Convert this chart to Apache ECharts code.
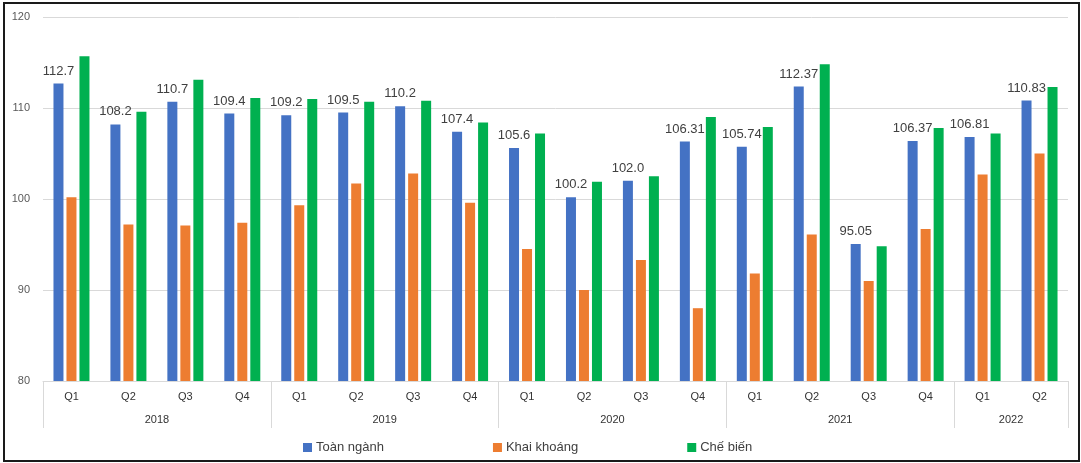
<!DOCTYPE html>
<html>
<head>
<meta charset="utf-8">
<script src="https://cdn.jsdelivr.net/npm/echarts@6/dist/echarts.min.js"></script>
<style>
  html, body { margin: 0; padding: 0; background: #fff; }
  #chart { position: absolute; left: 0; top: 0; width: 1081px; height: 463px; }
  #frame { position: absolute; left: 3px; top: 2px; width: 1073px; height: 456px;
           border: 2px solid #1a1a1a; pointer-events: none; }
</style>
</head>
<body>
<div id="chart"></div>
<div id="frame"></div>
<script>
// Quarterly production index, 2018 - 2022 Q2
const years = ['2018', '2019', '2020', '2021', '2022'];
const quartersPerYear = [4, 4, 4, 4, 2];
const quarterNames = ['Q1', 'Q2', 'Q3', 'Q4'];
const seriesNames = ['Toàn ngành', 'Khai khoáng', 'Chế biến'];
const seriesColors = ['#4472C4', '#ED7D31', '#00B050'];

// Whole-industry values as printed above the bars
const toanNganhLabels = ['112.7', '108.2', '110.7', '109.4', '109.2', '109.5', '110.2', '107.4',
  '105.6', '100.2', '102.0', '106.31', '105.74', '112.37', '95.05', '106.37', '106.81', '110.83'];
const toanNganh = toanNganhLabels.map(Number);
const khaiKhoang = [100.2, 97.2, 97.1, 97.4, 99.3, 101.7, 102.8, 99.6,
  94.5, 90.0, 93.3, 88.0, 91.8, 96.1, 91.0, 96.7, 102.7, 105.0];
const cheBien = [115.7, 109.6, 113.1, 111.1, 111.0, 110.7, 110.8, 108.4,
  107.2, 101.9, 102.5, 109.0, 107.9, 114.8, 94.8, 107.8, 107.2, 112.3];
const yTicks = { min: 80, max: 120, interval: 10 };

// Category list and the year grouping boundaries / centres
const categories = [];
const yearBounds = [0];
const yearCenters = [];
quartersPerYear.forEach((n, i) => {
  for (let q = 0; q < n; q++) categories.push(quarterNames[q]);
  const start = yearBounds[yearBounds.length - 1];
  yearCenters.push(start + n / 2);
  yearBounds.push(start + n);
});
const total = categories.length;

const font = 'Liberation Sans, Arial, sans-serif';
const chart = echarts.init(document.getElementById('chart'), null, { renderer: 'canvas' });

const barSeries = [toanNganh, khaiKhoang, cheBien].map((data, i) => ({
  name: seriesNames[i],
  type: 'bar',
  data: data,
  barWidth: 10,
  barGap: '30%',
  xAxisIndex: 0,
  itemStyle: { color: seriesColors[i] },
  label: i === 0 ? {
    show: true,
    position: 'top',
    distance: 6,
    fontFamily: font,
    fontSize: 13,
    color: '#404040',
    formatter: p => toanNganhLabels[p.dataIndex]
  } : { show: false }
}));

chart.setOption({
  animation: false,
  textStyle: { fontFamily: font },
  grid: { left: 43, right: 13, top: 17, bottom: 82, containLabel: false },
  legend: {
    data: seriesNames,
    left: 303,
    top: 441,
    padding: 0,
    itemWidth: 9,
    itemHeight: 9,
    itemGap: 109,
    icon: 'rect',
    textStyle: { fontFamily: font, fontSize: 13, color: '#404040', padding: [0, 0, 0, -1] }
  },
  xAxis: [
    {
      type: 'category',
      data: categories,
      position: 'bottom',
      axisLine: { show: true, lineStyle: { color: '#d9d9d9', width: 1 } },
      axisTick: { show: false },
      axisLabel: { fontFamily: font, fontSize: 11, color: '#333', margin: 10 },
      splitLine: { show: false }
    },
    {
      type: 'value',
      min: 0,
      max: total,
      position: 'bottom',
      axisLine: { show: false },
      splitLine: { show: false },
      axisTick: {
        show: true,
        customValues: yearBounds,
        length: 47,
        lineStyle: { color: '#d9d9d9', width: 1 }
      },
      axisLabel: {
        show: true,
        customValues: yearCenters,
        margin: 33,
        fontFamily: font,
        fontSize: 11,
        color: '#333',
        formatter: v => years[yearCenters.indexOf(v)]
      }
    }
  ],
  yAxis: {
    type: 'value',
    min: yTicks.min,
    max: yTicks.max,
    interval: yTicks.interval,
    axisLine: { show: false },
    axisTick: { show: false },
    axisLabel: { fontFamily: font, fontSize: 11, color: '#595959', margin: 13 },
    splitLine: { lineStyle: { color: '#d9d9d9', width: 1 } }
  },
  series: barSeries
});
</script>
</body>
</html>
